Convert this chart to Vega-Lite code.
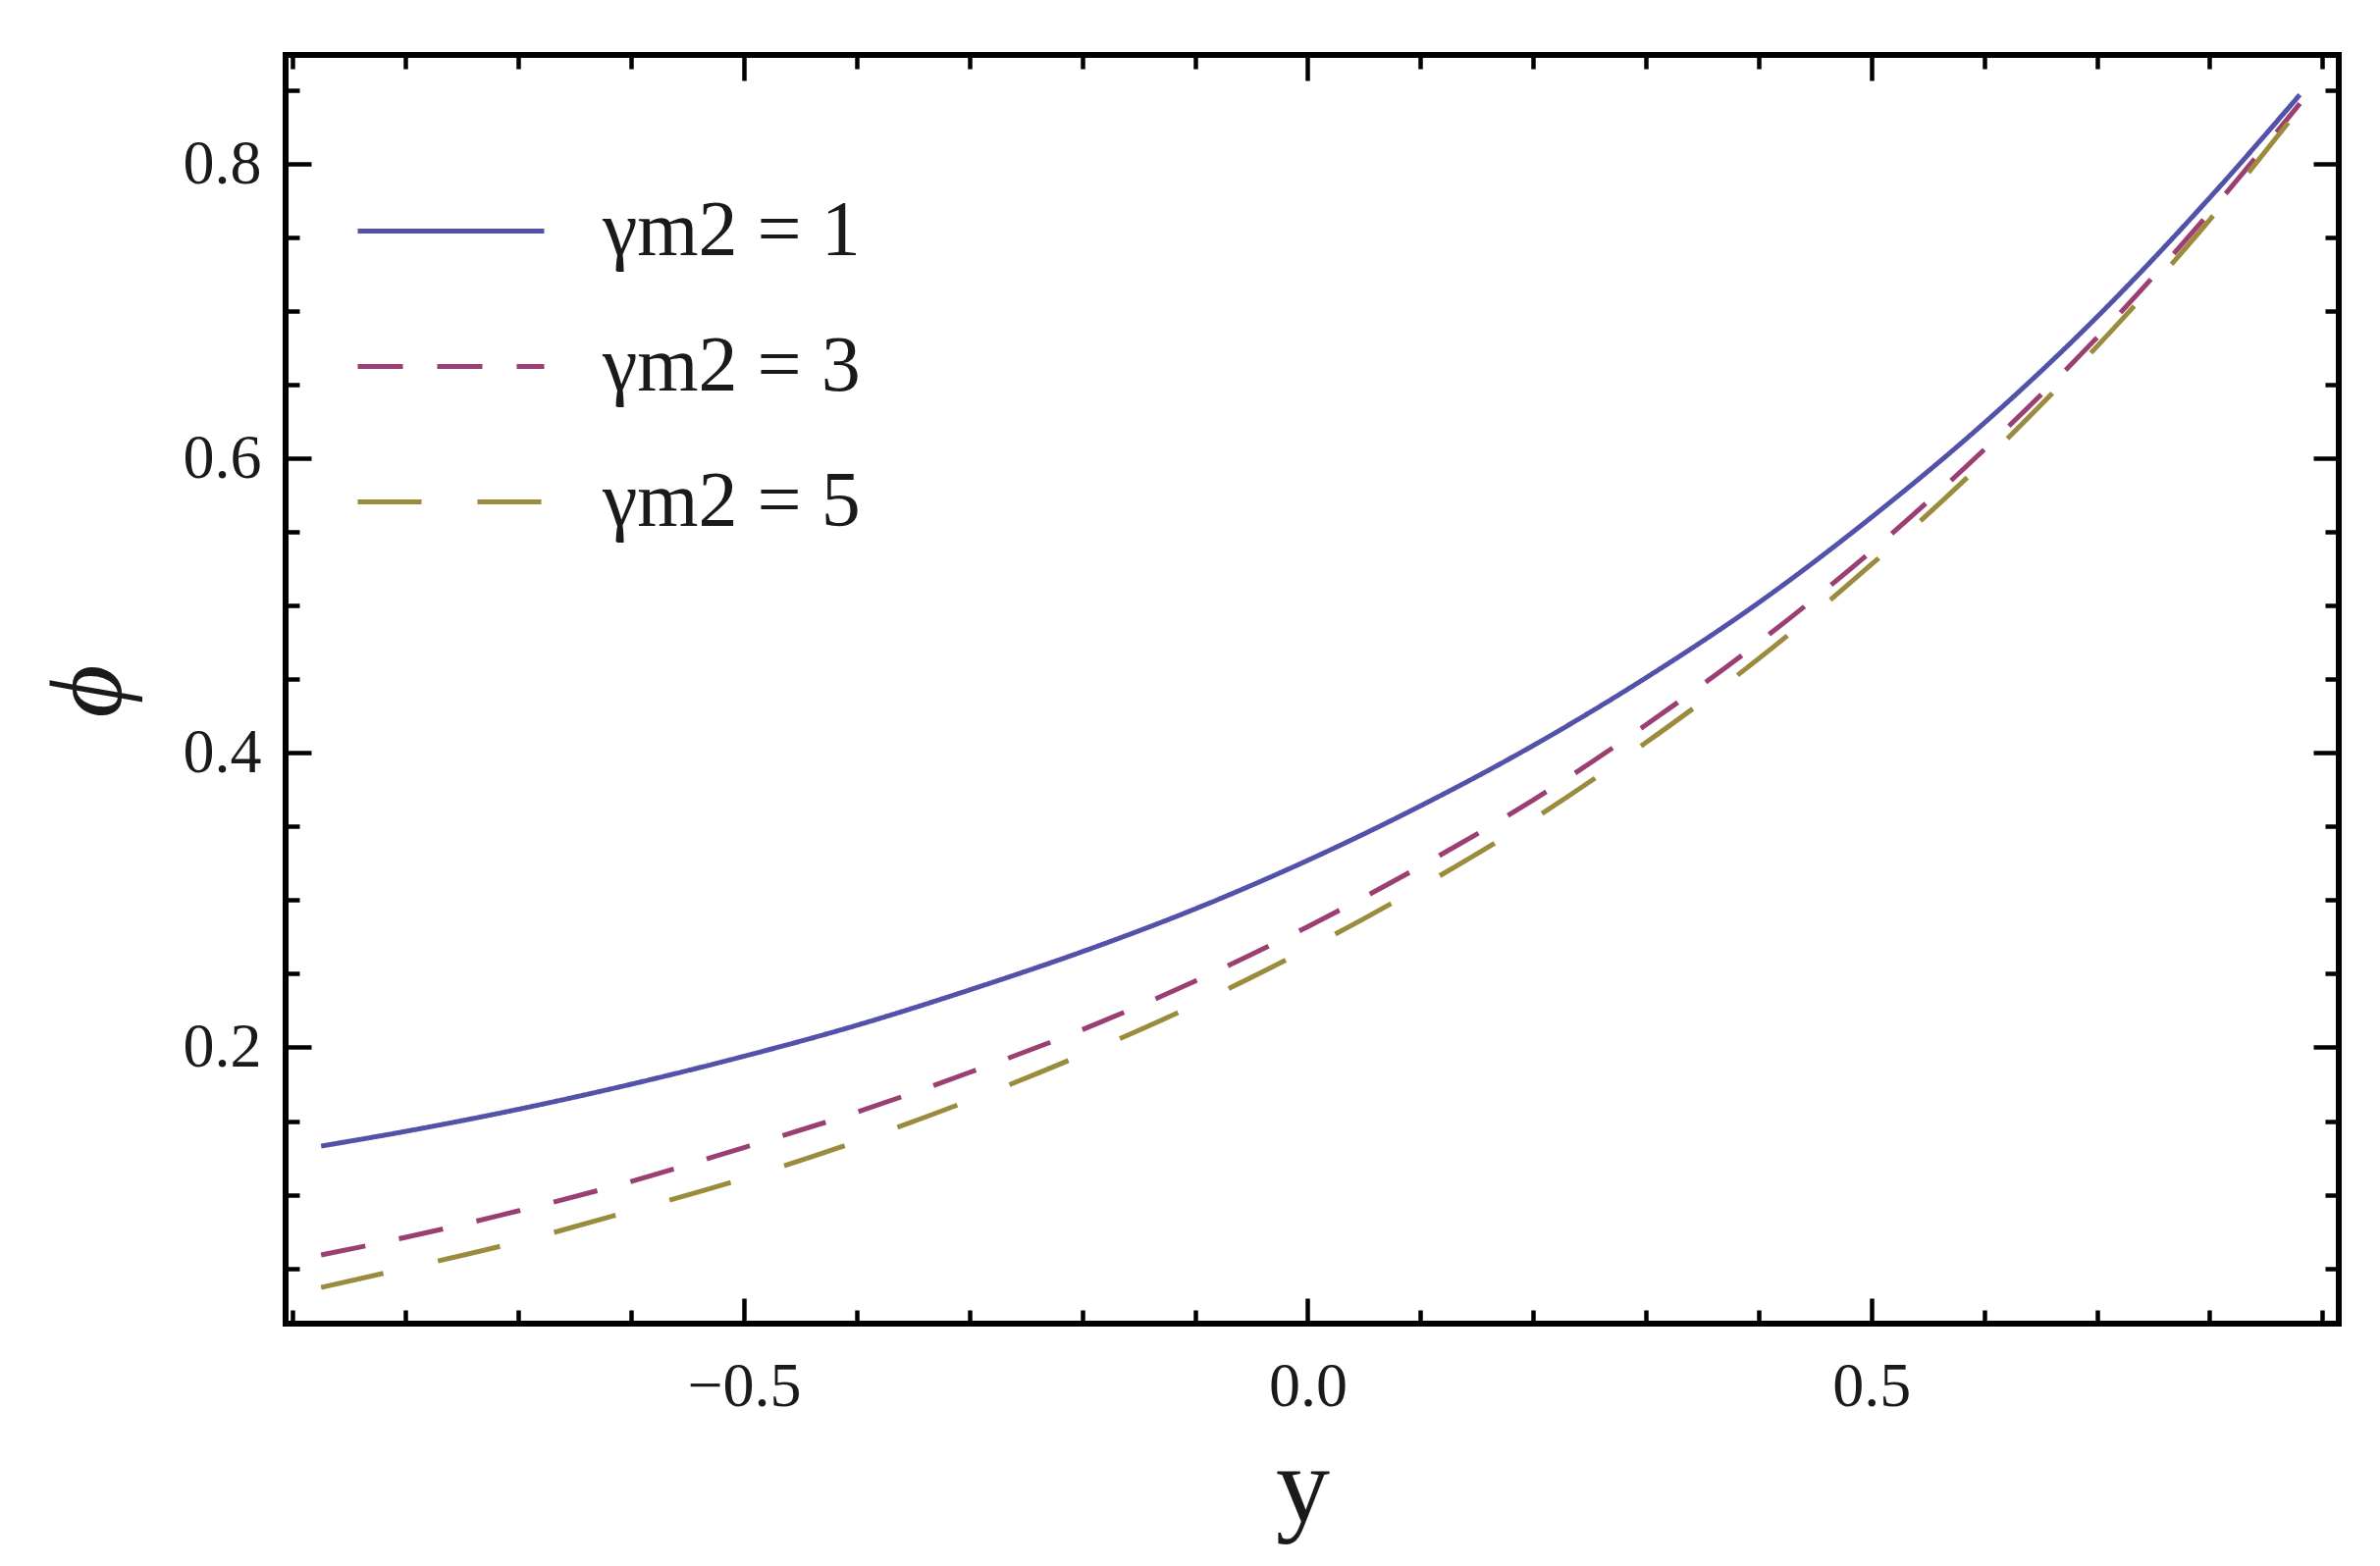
{
  "$schema": "https://vega.github.io/schema/vega-lite/v6.json",
  "autosize": {"type": "none"},
  "padding": {"left": 291, "top": 56, "right": 42, "bottom": 247},
  "width": 2092,
  "height": 1293,
  "background": "white",
  "config": {
    "view": {"stroke": "black", "strokeWidth": 6},
    "axis": {
      "grid": false,
      "domain": false,
      "tickColor": "black",
      "tickWidth": 4.5,
      "labelFont": "Liberation Serif",
      "labelFontSize": 64,
      "labelColor": "#1a1a1a",
      "titleFont": "Liberation Serif",
      "titleColor": "#1a1a1a",
      "titleFontWeight": "normal"
    }
  },
  "data": {
    "values": [
      {"x": -0.875, "phi": 0.133, "g": "γm2 = 1"},
      {"x": -0.8, "phi": 0.143, "g": "γm2 = 1"},
      {"x": -0.7, "phi": 0.158, "g": "γm2 = 1"},
      {"x": -0.6, "phi": 0.175, "g": "γm2 = 1"},
      {"x": -0.5, "phi": 0.194, "g": "γm2 = 1"},
      {"x": -0.4, "phi": 0.215, "g": "γm2 = 1"},
      {"x": -0.3, "phi": 0.239, "g": "γm2 = 1"},
      {"x": -0.2, "phi": 0.265, "g": "γm2 = 1"},
      {"x": -0.1, "phi": 0.294, "g": "γm2 = 1"},
      {"x": 0.0, "phi": 0.327, "g": "γm2 = 1"},
      {"x": 0.1, "phi": 0.364, "g": "γm2 = 1"},
      {"x": 0.2, "phi": 0.405, "g": "γm2 = 1"},
      {"x": 0.3, "phi": 0.451, "g": "γm2 = 1"},
      {"x": 0.4, "phi": 0.502, "g": "γm2 = 1"},
      {"x": 0.5, "phi": 0.560, "g": "γm2 = 1"},
      {"x": 0.6, "phi": 0.624, "g": "γm2 = 1"},
      {"x": 0.7, "phi": 0.696, "g": "γm2 = 1"},
      {"x": 0.8, "phi": 0.777, "g": "γm2 = 1"},
      {"x": 0.88, "phi": 0.847, "g": "γm2 = 1"},
      {"x": -0.875, "phi": 0.059, "g": "γm2 = 3"},
      {"x": -0.8, "phi": 0.071, "g": "γm2 = 3"},
      {"x": -0.7, "phi": 0.089, "g": "γm2 = 3"},
      {"x": -0.6, "phi": 0.109, "g": "γm2 = 3"},
      {"x": -0.5, "phi": 0.132, "g": "γm2 = 3"},
      {"x": -0.4, "phi": 0.156, "g": "γm2 = 3"},
      {"x": -0.3, "phi": 0.183, "g": "γm2 = 3"},
      {"x": -0.2, "phi": 0.212, "g": "γm2 = 3"},
      {"x": -0.1, "phi": 0.245, "g": "γm2 = 3"},
      {"x": 0.0, "phi": 0.282, "g": "γm2 = 3"},
      {"x": 0.1, "phi": 0.323, "g": "γm2 = 3"},
      {"x": 0.2, "phi": 0.368, "g": "γm2 = 3"},
      {"x": 0.3, "phi": 0.419, "g": "γm2 = 3"},
      {"x": 0.4, "phi": 0.475, "g": "γm2 = 3"},
      {"x": 0.5, "phi": 0.537, "g": "γm2 = 3"},
      {"x": 0.6, "phi": 0.606, "g": "γm2 = 3"},
      {"x": 0.7, "phi": 0.682, "g": "γm2 = 3"},
      {"x": 0.8, "phi": 0.767, "g": "γm2 = 3"},
      {"x": 0.88, "phi": 0.841, "g": "γm2 = 3"},
      {"x": -0.875, "phi": 0.037, "g": "γm2 = 5"},
      {"x": -0.8, "phi": 0.050, "g": "γm2 = 5"},
      {"x": -0.7, "phi": 0.068, "g": "γm2 = 5"},
      {"x": -0.6, "phi": 0.089, "g": "γm2 = 5"},
      {"x": -0.5, "phi": 0.111, "g": "γm2 = 5"},
      {"x": -0.4, "phi": 0.136, "g": "γm2 = 5"},
      {"x": -0.3, "phi": 0.164, "g": "γm2 = 5"},
      {"x": -0.2, "phi": 0.195, "g": "γm2 = 5"},
      {"x": -0.1, "phi": 0.229, "g": "γm2 = 5"},
      {"x": 0.0, "phi": 0.267, "g": "γm2 = 5"},
      {"x": 0.1, "phi": 0.309, "g": "γm2 = 5"},
      {"x": 0.2, "phi": 0.355, "g": "γm2 = 5"},
      {"x": 0.3, "phi": 0.407, "g": "γm2 = 5"},
      {"x": 0.4, "phi": 0.464, "g": "γm2 = 5"},
      {"x": 0.5, "phi": 0.528, "g": "γm2 = 5"},
      {"x": 0.6, "phi": 0.598, "g": "γm2 = 5"},
      {"x": 0.7, "phi": 0.676, "g": "γm2 = 5"},
      {"x": 0.8, "phi": 0.762, "g": "γm2 = 5"},
      {"x": 0.88, "phi": 0.838, "g": "γm2 = 5"}
    ]
  },
  "resolve": {"axis": {"x": "independent", "y": "independent"}},
  "layer": [
    {
      "mark": {"type": "line", "interpolate": "monotone", "strokeWidth": 5},
      "encoding": {
        "x": {
          "field": "x", "type": "quantitative",
          "scale": {"domain": [-0.9065, 0.9145], "nice": false, "zero": false},
          "axis": {
            "orient": "bottom",
            "values": [-0.9, -0.8, -0.7, -0.6, -0.5, -0.4, -0.3, -0.2, -0.1, 0, 0.1, 0.2, 0.3, 0.4, 0.5, 0.6, 0.7, 0.8, 0.9],
            "labelExpr": "abs(datum.value*2 - round(datum.value*2)) < 0.001 ? format(datum.value, '.1f') : ''",
            "tickSize": {"condition": {"test": "abs(datum.value*2 - round(datum.value*2)) < 0.001", "value": -26}, "value": -14},
            "labelPadding": 58,
            "labelFlush": false,
            "labelOverlap": false,
            "title": "y",
            "titleFontSize": 110,
            "titleX": 1036,
            "titleY": 201,
            "titleBaseline": "alphabetic",
            "titleAlign": "center"
          }
        },
        "y": {
          "field": "phi", "type": "quantitative",
          "scale": {"domain": [0.0124, 0.874], "nice": false, "zero": false},
          "axis": {
            "orient": "left",
            "values": [0.05, 0.1, 0.15, 0.2, 0.25, 0.3, 0.35, 0.4, 0.45, 0.5, 0.55, 0.6, 0.65, 0.7, 0.75, 0.8, 0.85],
            "labelExpr": "abs(datum.value*5 - round(datum.value*5)) < 0.001 ? format(datum.value, '.1f') : ''",
            "tickSize": {"condition": {"test": "abs(datum.value*5 - round(datum.value*5)) < 0.001", "value": -26}, "value": -14},
            "labelPadding": 51,
            "labelFlush": false,
            "labelOverlap": false,
            "title": "ϕ",
            "titleFontSize": 104,
            "titleFontStyle": "italic",
            "titleAngle": -90,
            "titleX": -200,
            "titleY": 648,
            "titleAlign": "center",
            "titleBaseline": "middle"
          }
        },
        "color": {
          "field": "g", "type": "nominal",
          "scale": {"domain": ["γm2 = 1", "γm2 = 3", "γm2 = 5"], "range": ["#5252aa", "#9b3f72", "#9b8b3d"]},
          "legend": {
            "orient": "none",
            "legendX": 71,
            "legendY": 82,
            "title": null,
            "symbolType": "stroke",
            "symbolSize": 36100,
            "symbolStrokeWidth": 5,
            "labelFont": "Liberation Serif",
            "labelFontSize": 80,
            "labelLimit": 800,
            "labelColor": "#1a1a1a",
            "labelOffset": 57,
            "rowPadding": -16,
            "padding": 0
          }
        },
        "strokeDash": {
          "field": "g", "type": "nominal",
          "scale": {"domain": ["γm2 = 1", "γm2 = 3", "γm2 = 5"], "range": [[1, 0], [46, 35], [65, 57]]},
          "legend": {
            "orient": "none",
            "legendX": 71,
            "legendY": 82,
            "title": null,
            "symbolType": "stroke",
            "symbolSize": 36100,
            "symbolStrokeWidth": 5,
            "labelFont": "Liberation Serif",
            "labelFontSize": 80,
            "labelLimit": 800,
            "labelColor": "#1a1a1a",
            "labelOffset": 57,
            "rowPadding": -16,
            "padding": 0
          }
        }
      }
    },
    {
      "mark": {"type": "point", "opacity": 0},
      "encoding": {
        "x": {
          "field": "x", "type": "quantitative",
          "axis": {
            "orient": "top",
            "values": [-0.9, -0.8, -0.7, -0.6, -0.5, -0.4, -0.3, -0.2, -0.1, 0, 0.1, 0.2, 0.3, 0.4, 0.5, 0.6, 0.7, 0.8, 0.9],
            "labels": false,
            "tickSize": {"condition": {"test": "abs(datum.value*2 - round(datum.value*2)) < 0.001", "value": -26}, "value": -14},
            "title": null
          }
        },
        "y": {
          "field": "phi", "type": "quantitative",
          "axis": {
            "orient": "right",
            "values": [0.05, 0.1, 0.15, 0.2, 0.25, 0.3, 0.35, 0.4, 0.45, 0.5, 0.55, 0.6, 0.65, 0.7, 0.75, 0.8, 0.85],
            "labels": false,
            "tickSize": {"condition": {"test": "abs(datum.value*5 - round(datum.value*5)) < 0.001", "value": -26}, "value": -14},
            "title": null
          }
        }
      }
    }
  ]
}
